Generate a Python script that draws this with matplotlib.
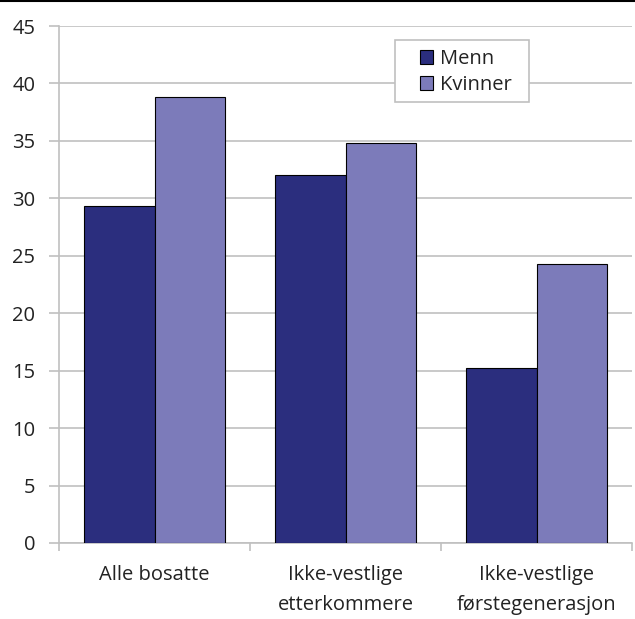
import numpy as np
import matplotlib.pyplot as plt
from matplotlib.patches import Rectangle

categories = ["Alle bosatte", "Ikke-vestlige\netterkommere", "Ikke-vestlige\nførstegenerasjon"]
menn = [29.3, 32.0, 15.2]
kvinner = [38.8, 34.8, 24.3]

plt.rcParams['font.family'] = ['Open Sans', 'DejaVu Sans']

W, H = 635, 619
fig = plt.figure(figsize=(W / 100, H / 100), dpi=100)
ax = fig.add_axes([59 / W, 76 / H, 573 / W, 517 / H])

x = np.arange(len(categories))
w = 0.37
ax.bar(x - w / 2, menn, w, color='#2b2e7e', edgecolor='black', linewidth=0.8, label='Menn', zorder=3)
ax.bar(x + w / 2, kvinner, w, color='#7c7bba', edgecolor='black', linewidth=0.8, label='Kvinner', zorder=3)

ax.set_xlim(-0.5, 2.5)
ax.set_ylim(0, 45)
ax.set_yticks(range(0, 46, 5))
ax.set_xticks([-0.5, 0.5, 1.5, 2.5])
ax.set_xticklabels([])
ax.set_xticks(x, minor=True)
ax.set_xticklabels(categories, minor=True, fontsize=14.5, linespacing=1.65, color='#222222')
ax.tick_params(axis='x', which='minor', length=0, pad=16)
ax.tick_params(axis='x', which='major', length=6, width=1.2, color='#c0c0c0')
ax.tick_params(axis='y', length=7, width=1.2, color='#c0c0c0', labelsize=14.5, labelcolor='#222222', pad=10)
ax.grid(axis='y', color='#c0c0c0', linewidth=1.2, zorder=0)
for s in ['top', 'right']:
    ax.spines[s].set_visible(False)
ax.spines['left'].set_color('#c0c0c0')
ax.spines['left'].set_linewidth(1.2)
ax.spines['bottom'].set_color('#c0c0c0')
ax.spines['bottom'].set_linewidth(1.2)

# legend frame drawn separately so the padding can be wider than it is tall
ax.add_patch(Rectangle((395, H - 102), 134, 62, transform=None, facecolor='white',
                       edgecolor='#c0c0c0', linewidth=1.2, zorder=4))
leg = ax.legend(loc='upper left', bbox_to_anchor=(420 / W, 1 - 49 / H),
                bbox_transform=fig.transFigure, fontsize=14.5, frameon=False,
                handlelength=0.65, handleheight=0.65, handletextpad=0.35, borderpad=0,
                labelspacing=0.3, borderaxespad=0)
leg.set_zorder(5)
for t in leg.get_texts():
    t.set_color('#222222')

fig.add_artist(plt.Line2D([0, 1], [1 - 0.8 / H, 1 - 0.8 / H], color='black', linewidth=1.5))

fig.savefig('out.png', dpi=100)
